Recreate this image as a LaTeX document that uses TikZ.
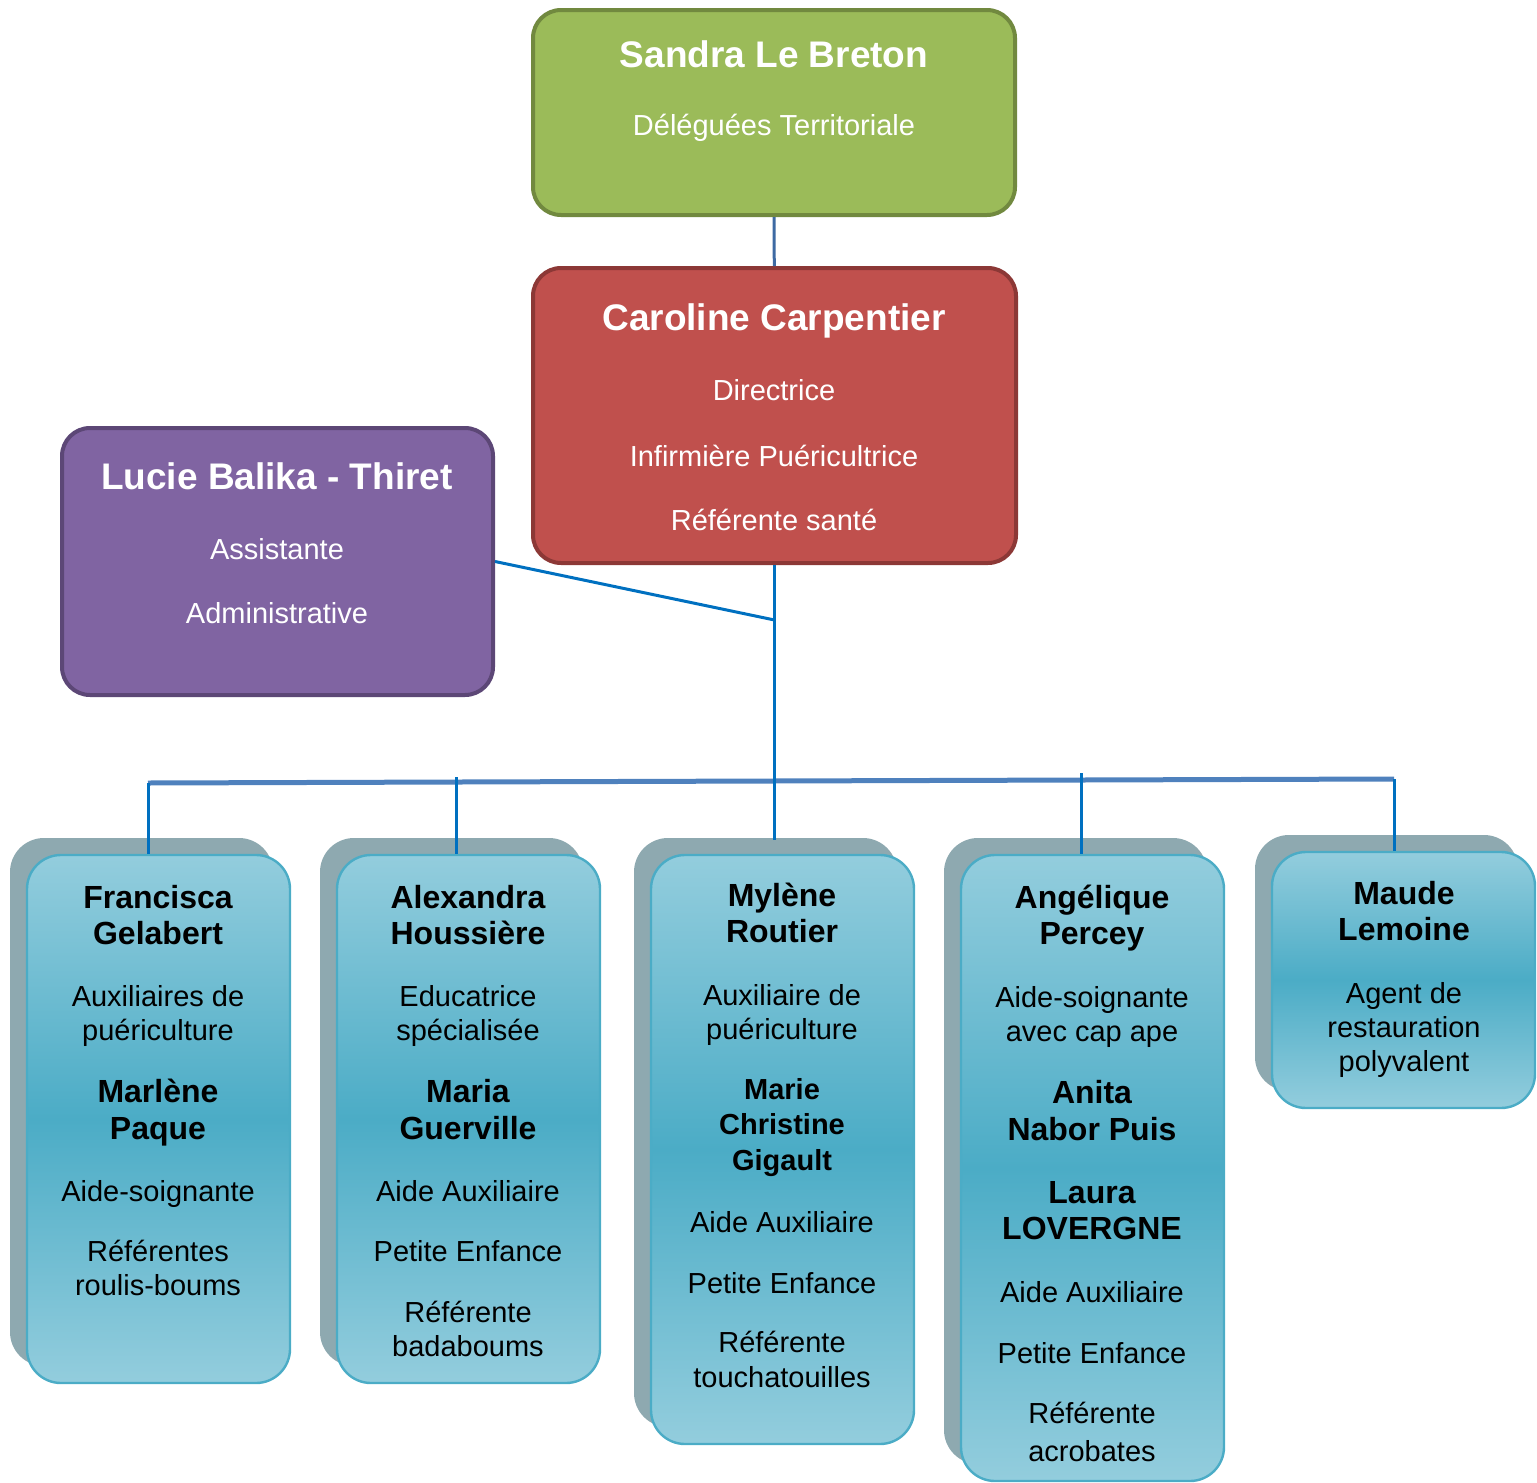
\documentclass[tikz,border=0pt]{standalone}
\usepackage{fontspec}
\setmainfont{Liberation Sans}
\usetikzlibrary{fit,shadows,calc}

\definecolor{headgreen}{HTML}{9BBB59}
\definecolor{headgreenline}{HTML}{71893F}
\definecolor{headred}{HTML}{C0504D}
\definecolor{headredline}{HTML}{8C3836}
\definecolor{headpurple}{HTML}{8064A2}
\definecolor{headpurpleline}{HTML}{5C4776}
\definecolor{stafflight}{HTML}{93CDDD}
\definecolor{staffdark}{HTML}{4BACC6}
\definecolor{staffline}{HTML}{4BACC6}
\definecolor{staffshadow}{HTML}{8EA9B0}
\definecolor{linkdark}{HTML}{3E6AA3}
\definecolor{linkbar}{HTML}{4F81BD}
\definecolor{linkblue}{HTML}{0070C0}

\newcommand\nm[1]{{\fontsize{16}{18}\selectfont\bfseries #1}}
\newcommand\nmsmall[1]{{\fontsize{14.5}{17}\selectfont\bfseries #1}}

\begin{document}
\begin{tikzpicture}[
    x=0.5pt, y=-0.5pt,
    head/.style={rounded corners=14pt, line width=2pt, inner sep=0pt},
    staff/.style={draw=staffline, line width=1.2pt, rounded corners=17pt, inner sep=0pt,
        top color=stafflight, bottom color=stafflight, middle color=staffdark,
        general shadow={fill=staffshadow, shadow xshift=-8.5pt, shadow yshift=8.5pt}},
    title/.style={text=white, font=\fontsize{18.5}{22}\selectfont\bfseries, anchor=base},
    role/.style={text=white, font=\fontsize{14.5}{17}\selectfont, align=center, anchor=base},
    staffText/.style={font=\fontsize{14.5}{17}\selectfont, align=center, anchor=base},
    stem/.style={draw=linkblue, line width=1.5pt},
    bar/.style={draw=linkbar, line width=2.5pt}
]
    \useasboundingbox (0,0) rectangle (1537,1483);

    % Top level (text nodes sit on the baseline of their last line)
    \node[head, draw=headgreenline, fill=headgreen, fit={(533,10) (1015,215)}] (sandra) {};
    \node[title] (sandraName) at (774,68) {Sandra Le Breton};
    \node[role] (sandraRole) at (774,135) {Déléguées Territoriale};

    % Direction
    \node[head, draw=headredline, fill=headred, fit={(533,268) (1016,563)}] (caroline) {};
    \node[title] (carolineName) at (774,330) {Caroline Carpentier};
    \node[role] (carolineRole) at (774,530) {Directrice\\[16pt]Infirmière Puéricultrice\\[15pt]Référente santé};

    % Assistante
    \node[head, draw=headpurpleline, fill=headpurple, fit={(62,428) (493,695)}] (lucie) {};
    \node[title] (lucieName) at (277,489) {Lucie Balika - Thiret};
    \node[role] (lucieRole) at (277,623) {Assistante\\[15pt]Administrative};

    % Staff boxes
    \node[staff, fit={(27,855) (290,1383)}] (francisca) {};
    \node[staff, fit={(337,855) (600,1383)}] (alexandra) {};
    \node[staff, fit={(651,855) (914,1444)}] (mylene) {};
    \node[staff, fit={(961,855) (1224,1481)}] (angelique) {};
    \node[staff, fit={(1272,852) (1535,1108)}] (maude) {};

    \node[staffText] (franciscaText) at (158,1295) {\nm{Francisca}\\[1pt]\nm{Gelabert}\\[14pt]
        Auxiliaires de\\puériculture\\[14pt]
        \nm{Marlène}\\[1.5pt]\nm{Paque}\\[14pt]
        Aide-soignante\\[13pt]
        Référentes\\roulis-boums};
    \node[staffText] (alexandraText) at (468,1356) {\nm{Alexandra}\\[1pt]\nm{Houssière}\\[14pt]
        Educatrice\\spécialisée\\[14pt]
        \nm{Maria}\\[1.5pt]\nm{Guerville}\\[14pt]
        Aide Auxiliaire\\[13pt]
        Petite Enfance\\[13.5pt]
        Référente\\badaboums};
    \node[staffText] (myleneText) at (782,1387) {\nm{Mylène}\\[1pt]\nm{Routier}\\[14.5pt]
        Auxiliaire de\\puériculture\\[13pt]
        \nmsmall{Marie}\\[0.5pt]\nmsmall{Christine}\\[1pt]\nmsmall{Gigault}\\[14pt]
        Aide Auxiliaire\\[13.5pt]
        Petite Enfance\\[12.5pt]
        Référente\\[0.5pt]touchatouilles};
    \node[staffText] (angeliqueText) at (1092,1461) {\nm{Angélique}\\[1pt]\nm{Percey}\\[14.5pt]
        Aide-soignante\\avec cap ape\\[14pt]
        \nm{Anita}\\[1.5pt]\nm{Nabor Puis}\\[14.5pt]
        \nm{Laura}\\[1pt]\nm{LOVERGNE}\\[14.5pt]
        Aide Auxiliaire\\[13.5pt]
        Petite Enfance\\[13pt]
        Référente\\[2pt]acrobates};
    \node[staffText] (maudeText) at (1404,1071) {\nm{Maude}\\[1pt]\nm{Lemoine}\\[14.5pt]
        Agent de\\restauration\\polyvalent};

    % Connectors
    \coordinate (join) at (caroline.south |- 0,620);
    \coordinate (b1) at (148,783);
    \coordinate (b2) at (456,777);
    \coordinate (b4) at (1081,773);
    \coordinate (b5) at (1394,779);

    \draw[draw=linkdark, line width=1.5pt] (sandra) -- (caroline);
    \draw[stem] (lucie.east) -- (join);
    \draw[bar] (b1) -- (b5);
    \draw[stem] (caroline.south) -- (caroline.south |- 0,840);
    \draw[stem] (b1) -- (b1 |- francisca.north);
    \draw[stem] (b2) -- (b2 |- alexandra.north);
    \draw[stem] (b4) -- (b4 |- angelique.north);
    \draw[stem] (b5) -- (b5 |- maude.north);
\end{tikzpicture}
\end{document}
